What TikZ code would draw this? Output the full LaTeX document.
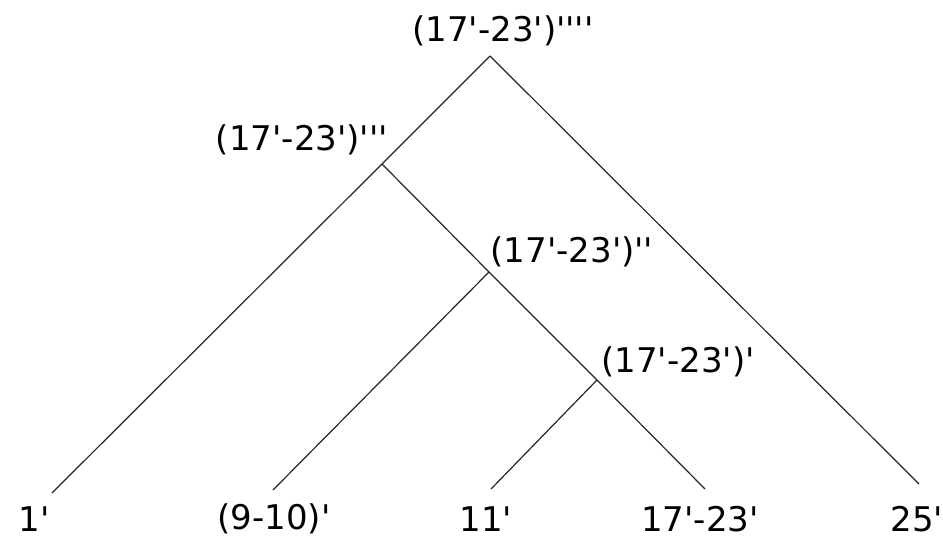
\documentclass[tikz,border=0pt]{standalone}
\usepackage{fontspec}
\setmainfont{DejaVu Sans}[Ligatures=TeXOff]
\begin{document}
\begin{tikzpicture}[x=1pt,y=-1pt,
  edge/.style={draw=black!85,line width=1.2pt},
  lbl/.style={inner sep=0pt,font=\fontsize{34}{37}\selectfont},
  leaf/.style={inner sep=0pt,font=\fontsize{34}{37}\selectfont}]
\useasboundingbox[fill=white] (0,0) rectangle (943,545);
% junctions
\coordinate (root) at (490,56);
\coordinate (n3) at (382,164);
\coordinate (n2) at (489,272);
\coordinate (n1) at (597,380);
% leaf ends
\coordinate (e1) at (52,493);
\coordinate (e9) at (273,490);
\coordinate (e11) at (491,489);
\coordinate (e17) at (705,489);
\coordinate (e25) at (919,484);
% edges
\draw[edge] (root) -- (n3);
\draw[edge] (n3) -- (e1);
\draw[edge] (root) -- (e25);
\draw[edge] (n3) -- (n2);
\draw[edge] (n2) -- (n1);
\draw[edge] (n1) -- (e17);
\draw[edge] (n2) -- (e9);
\draw[edge] (n1) -- (e11);
% internal labels
\node[lbl] (t4) at (503,31) {(17'-23')''''};
\node[lbl] (t3) at (302,140) {(17'-23')'''};
\node[lbl] (t2) at (572,252) {(17'-23')''};
\node[lbl] (t1) at (678,362) {(17'-23')'};
% leaf labels
\node[leaf] (l1) at (34,519) {1'};
\node[leaf] (l9) at (274,519) {(9-10)'};
\node[leaf] (l11) at (486,519) {11'};
\node[leaf] (l17) at (700,519) {17'-23'};
\node[leaf] (l25) at (917,519) {25'};
\end{tikzpicture}
\end{document}
